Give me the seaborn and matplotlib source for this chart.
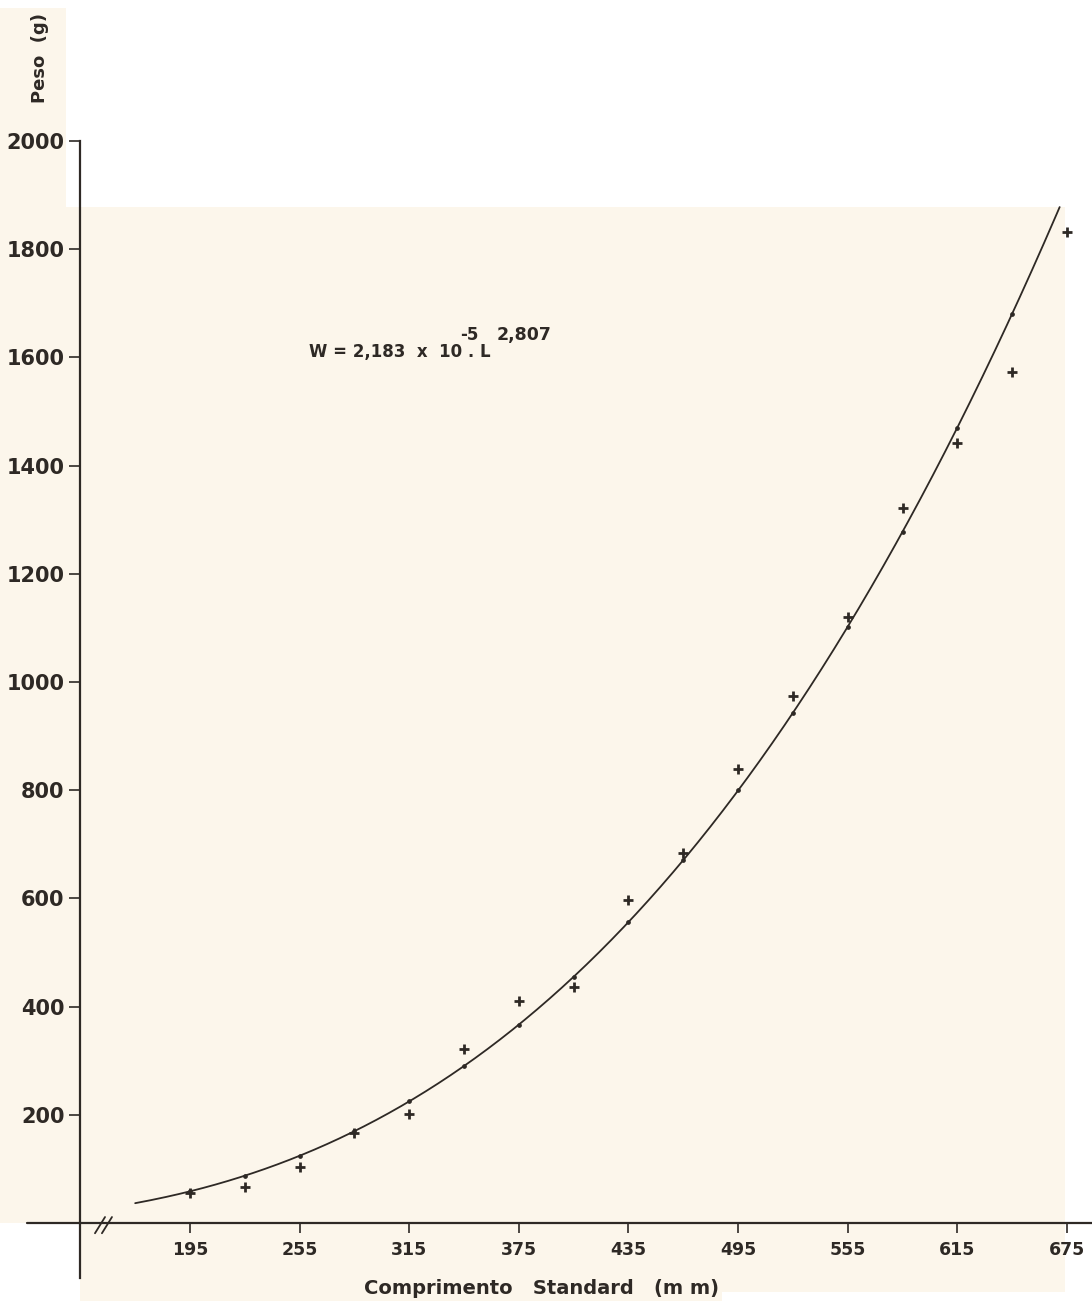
import numpy as np
import pandas as pd
import matplotlib
matplotlib.use("Agg")
import matplotlib.pyplot as plt
from matplotlib.patches import Rectangle
from matplotlib.lines import Line2D
import seaborn as sns

# Observed standard length (mm) and weight (g)
comprimento = [195, 225, 255, 285, 315, 345, 375, 405, 435, 465, 495, 525, 555, 585, 615, 645, 675]
peso = [55, 66, 103, 166, 201, 322, 410, 436, 597, 684, 839, 974, 1120, 1322, 1442, 1573, 1832]

# Fitted length-weight relation W = a . L^b
coef_a = 2.183e-5
coef_b = 2.807
curva_inicio, curva_fim = 165, 671

x_ticks = [195, 255, 315, 375, 435, 495, 555, 615, 675]
y_ticks = [200, 400, 600, 800, 1000, 1200, 1400, 1600, 1800, 2000]
y_tick_labels = ["200", "400", "600", "800", "1000", "1200", "1400", "1600", "1800", "2000"]

INK = "#2e2925"
PAPER = "#fcf6eb"

sns.set_theme(style="white")
plt.rcParams["font.family"] = ["DejaVu Sans"]

W_PX, H_PX = 1092, 1301
fig = plt.figure(figsize=(W_PX / 100, H_PX / 100), dpi=100, facecolor="white")


def fig_rect(x0, y0, x1, y1):
    return Rectangle((x0 / W_PX, 1 - y1 / H_PX), (x1 - x0) / W_PX, (y1 - y0) / H_PX,
                     transform=fig.transFigure, facecolor=PAPER, edgecolor="none", zorder=-10)


# paper background
for r in [(0, 207, 1065, 1223), (80, 1223, 1065, 1292), (80, 1292, 722, 1301), (0, 8, 66, 207)]:
    fig.patches.append(fig_rect(*r))

ax = fig.add_axes([80 / W_PX, 1 - 1278 / H_PX, 1 - 80 / W_PX, (1278 - 141) / H_PX])
ax.set_zorder(5)
ax.set_facecolor("none")
ax.set_xlim(134.8, 688.7)
ax.set_ylim(-101.7, 2000)

# fitted curve
L = np.linspace(curva_inicio, curva_fim, 300)
curva = pd.DataFrame({"L": L, "W": coef_a * L ** coef_b})
sns.lineplot(data=curva, x="L", y="W", ax=ax, color=INK, lw=1.3, zorder=3)

# small marks on the curve at the class lengths
cl = np.array([c for c in comprimento if c <= curva_fim])
ax.plot(cl, coef_a * cl ** coef_b, ls="none", marker="o", ms=2.4, color=INK, zorder=4)

# observed points
dados = pd.DataFrame({"comprimento": comprimento, "peso": peso})
sns.scatterplot(data=dados, x="comprimento", y="peso", ax=ax, marker="+", s=50,
                linewidth=2.0, color=INK, zorder=5, clip_on=False)

# axes styling
for s in ["top", "right"]:
    ax.spines[s].set_visible(False)
ax.spines["left"].set_color(INK)
ax.spines["left"].set_linewidth(1.6)
ax.spines["bottom"].set_position(("data", 0))
ax.spines["bottom"].set_color(INK)
ax.spines["bottom"].set_linewidth(1.6)

ax.set_xticks(x_ticks)
ax.set_xticklabels([str(v) for v in x_ticks])
ax.set_yticks(y_ticks)
ax.set_yticklabels(y_tick_labels)
ax.tick_params(axis="x", direction="out", length=7, width=1.2, color=INK, pad=6,
               labelsize=12.5, labelcolor=INK, bottom=True)
ax.tick_params(axis="y", direction="out", length=8, width=1.2, color=INK, pad=3,
               labelsize=15, labelcolor=INK, left=True)
for lab in ax.get_xticklabels() + ax.get_yticklabels():
    lab.set_fontweight("bold")
ax.set_xlabel("")
ax.set_ylabel("")
ax.grid(False)

# x axis continued to the left of the y axis, with a break mark
ax.add_line(Line2D([106, 134.8], [0, 0], color=INK, lw=1.6, clip_on=False))
for x0 in (143.0, 146.8):
    ax.add_line(Line2D([x0, x0 + 5.5], [-19, 11], color=INK, lw=1.3, clip_on=False))

# equation
ax.text(260.1, 1610, "W = 2,183  x  10 . L", fontsize=12, fontweight="bold", color=INK,
        ha="left", va="center")
ax.text(348.0, 1642, "-5", fontsize=12, fontweight="bold", color=INK, ha="center", va="center")
ax.text(363.0, 1642, "2,807", fontsize=12.5, fontweight="bold", color=INK, ha="left", va="center")

# axis titles
fig.text(542 / W_PX, 1 - 1289 / H_PX, "Comprimento   Standard   (m m)", fontsize=14,
         fontweight="bold", color=INK, ha="center", va="center")
fig.text(40 / W_PX, 1 - 58 / H_PX, "Peso  (g)", fontsize=13, fontweight="bold", color=INK,
         ha="center", va="center", rotation=90)

fig.savefig("out.png", dpi=100, facecolor="white")
